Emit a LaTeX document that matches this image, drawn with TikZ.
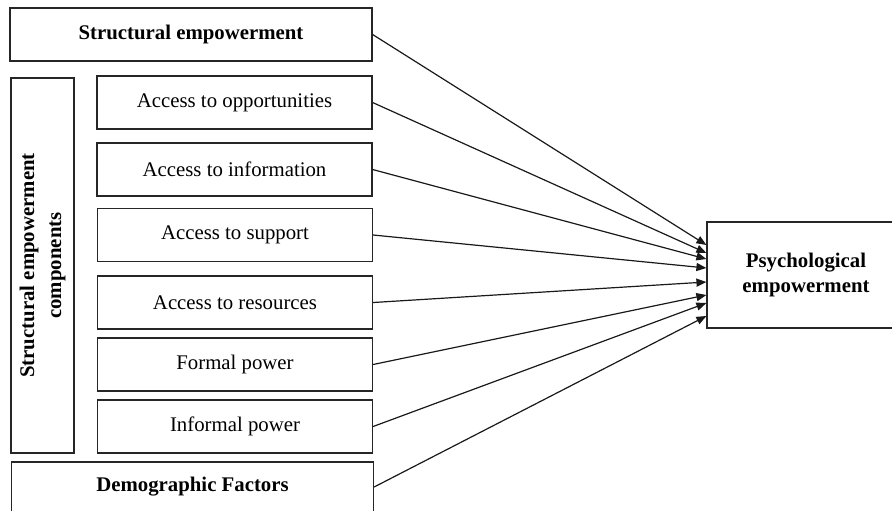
\documentclass[tikz,border=0pt]{standalone}
\usepackage{fontspec}
\setmainfont{Liberation Serif}
\usetikzlibrary{calc,arrows.meta}

\begin{document}
\begin{tikzpicture}[x=0.5pt, y=-0.5pt,
    font=\fontsize{10.4pt}{12.5pt}\selectfont,
    box/.style={draw=black!85, line width=0.6pt, inner sep=0pt, align=center},
    wide/.style={box, minimum width=181pt, minimum height=26.5pt},
    item/.style={box, minimum width=137.5pt, minimum height=26.5pt},
    arrow/.style={draw=black!90, line width=0.6pt, -{Triangle[length=5pt, width=4pt]}}]
  \useasboundingbox (0,0) rectangle (892,510);
  \clip (0,0) rectangle (892,510);
  % outer boxes
  \node[wide] (sem) at (191,34.5) {\textbf{Structural empowerment}};
  \node[box, minimum width=31.5pt, minimum height=187.5pt] (comp) at (42.5,265.5) {};
  \node[rotate=90, align=center, font=\fontsize{10.4pt}{13.5pt}\selectfont\bfseries] at (comp.center)
    {Structural empowerment\\components};
  \node[wide, minimum height=25pt] (demo) at (192.5,487) {\textbf{Demographic Factors}};
  \node[box, minimum width=99pt, minimum height=53pt] (psych) at (806,275)
    {\textbf{Psychological}\\\textbf{empowerment}};
  % the six components
  \node[item] (opp)  at (234.5,102.5) {Access to opportunities};
  \node[item] (info) at (234.5,169.5) {Access to information};
  \node[item] (sup)  at (235,235)     {Access to support};
  \node[item] (res)  at (235,302.5)   {Access to resources};
  \node[item] (fp)   at (235,364.5)   {Formal power};
  \node[item] (ip)   at (235,426.5)   {Informal power};
  % arrows into psychological empowerment, ends spread along its west side
  \foreach \src/\dy in {sem/-30, opp/-22, info/-16, sup/-7, res/7, fp/20, ip/28, demo/41}
    \draw[arrow] (\src.east) -- ($(psych.west)+(0,\dy)$);
\end{tikzpicture}
\end{document}
